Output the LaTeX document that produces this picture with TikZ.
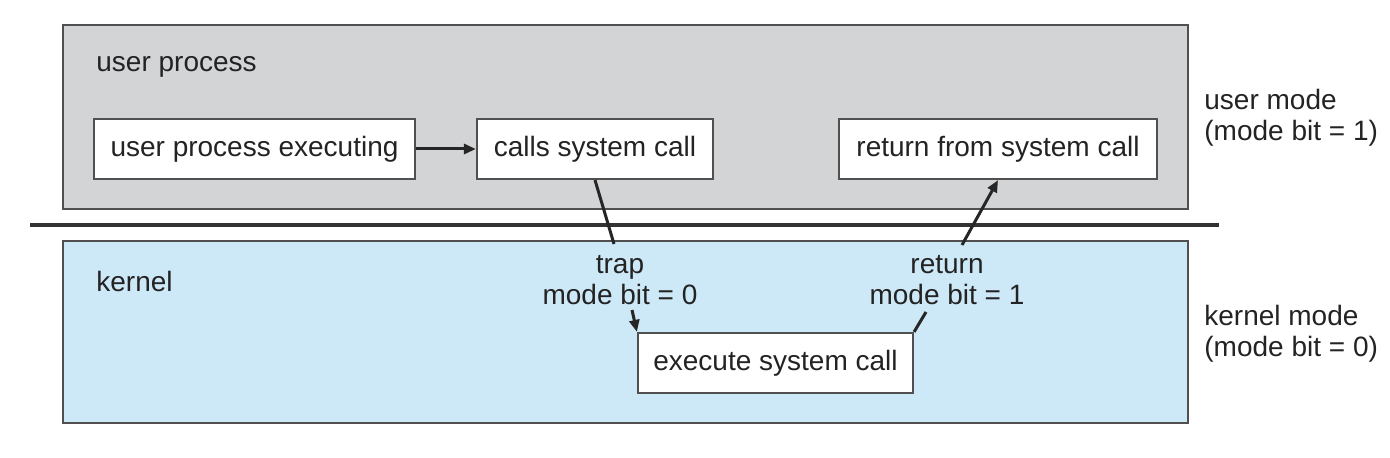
\documentclass[tikz,border=0pt]{standalone}
\usepackage{fontspec}
\setmainfont{Liberation Sans}
\usetikzlibrary{arrows.meta}
\definecolor{usergray}{RGB}{211,212,214}
\definecolor{kernblue}{RGB}{205,232,247}
\definecolor{edgegray}{RGB}{80,80,80}
\definecolor{txt}{RGB}{35,35,35}
\tikzset{
  region/.style={draw=edgegray, line width=1.1pt},
  stepbox/.style={draw=edgegray, fill=white, line width=1.1pt, minimum height=30pt, inner sep=0pt, text=txt},
  lbl/.style={text=txt, inner sep=0pt},
  conn/.style={draw=black!85, line width=1.5pt},
  tip/.style={-{Triangle[length=6pt,width=5pt]}},
}
\begin{document}
\begin{tikzpicture}[x=0.5pt,y=-0.5pt,font=\fontsize{14}{15.5}\selectfont]
\useasboundingbox (0,0) rectangle (1390,458);
% regions
\fill[usergray] (63,25) rectangle (1188,209);
\draw[region] (63,25) rectangle (1188,209);
\fill[kernblue] (63,241) rectangle (1188,423);
\draw[region] (63,241) rectangle (1188,423);
\draw[line width=1.6pt, draw=black!80] (30,225) -- (1219,225);
% region labels
\node[lbl, anchor=west] (up) at (96,67) {user process};
\node[lbl, anchor=west] (kn) at (96,281) {kernel};
\node[lbl, anchor=west, align=left] (um) at (1204,118) {user mode\\(mode bit = 1)};
\node[lbl, anchor=west, align=left] (km) at (1204,334) {kernel mode\\(mode bit = 0)};
% step boxes
\node[stepbox, minimum width=160.5pt] (exe) at (254.5,149) {user process executing};
\node[stepbox, minimum width=118pt] (calls) at (595,149) {calls system call};
\node[stepbox, minimum width=159pt] (ret) at (998,149) {return from system call};
\node[stepbox, minimum width=137.5pt] (sys) at (775.5,363) {execute system call};
% transition labels
\node[lbl, align=center] (trap) at (620,280) {trap\\mode bit = 0};
\node[lbl, align=center] (retl) at (947,280) {return\\mode bit = 1};
% connector break points
\coordinate (t1) at (614,244);
\coordinate (t2) at (632,310);
\coordinate (r1) at (926,312);
\coordinate (r2) at (962,245);
% connectors
\draw[conn, tip] (exe.east) -- (calls.west);
\draw[conn] (calls.south) -- (t1);
\draw[conn, tip] (t2) -- (sys.north west);
\draw[conn] (sys.north east) -- (r1);
\draw[conn, tip] (r2) -- (ret.south);
\end{tikzpicture}
\end{document}
